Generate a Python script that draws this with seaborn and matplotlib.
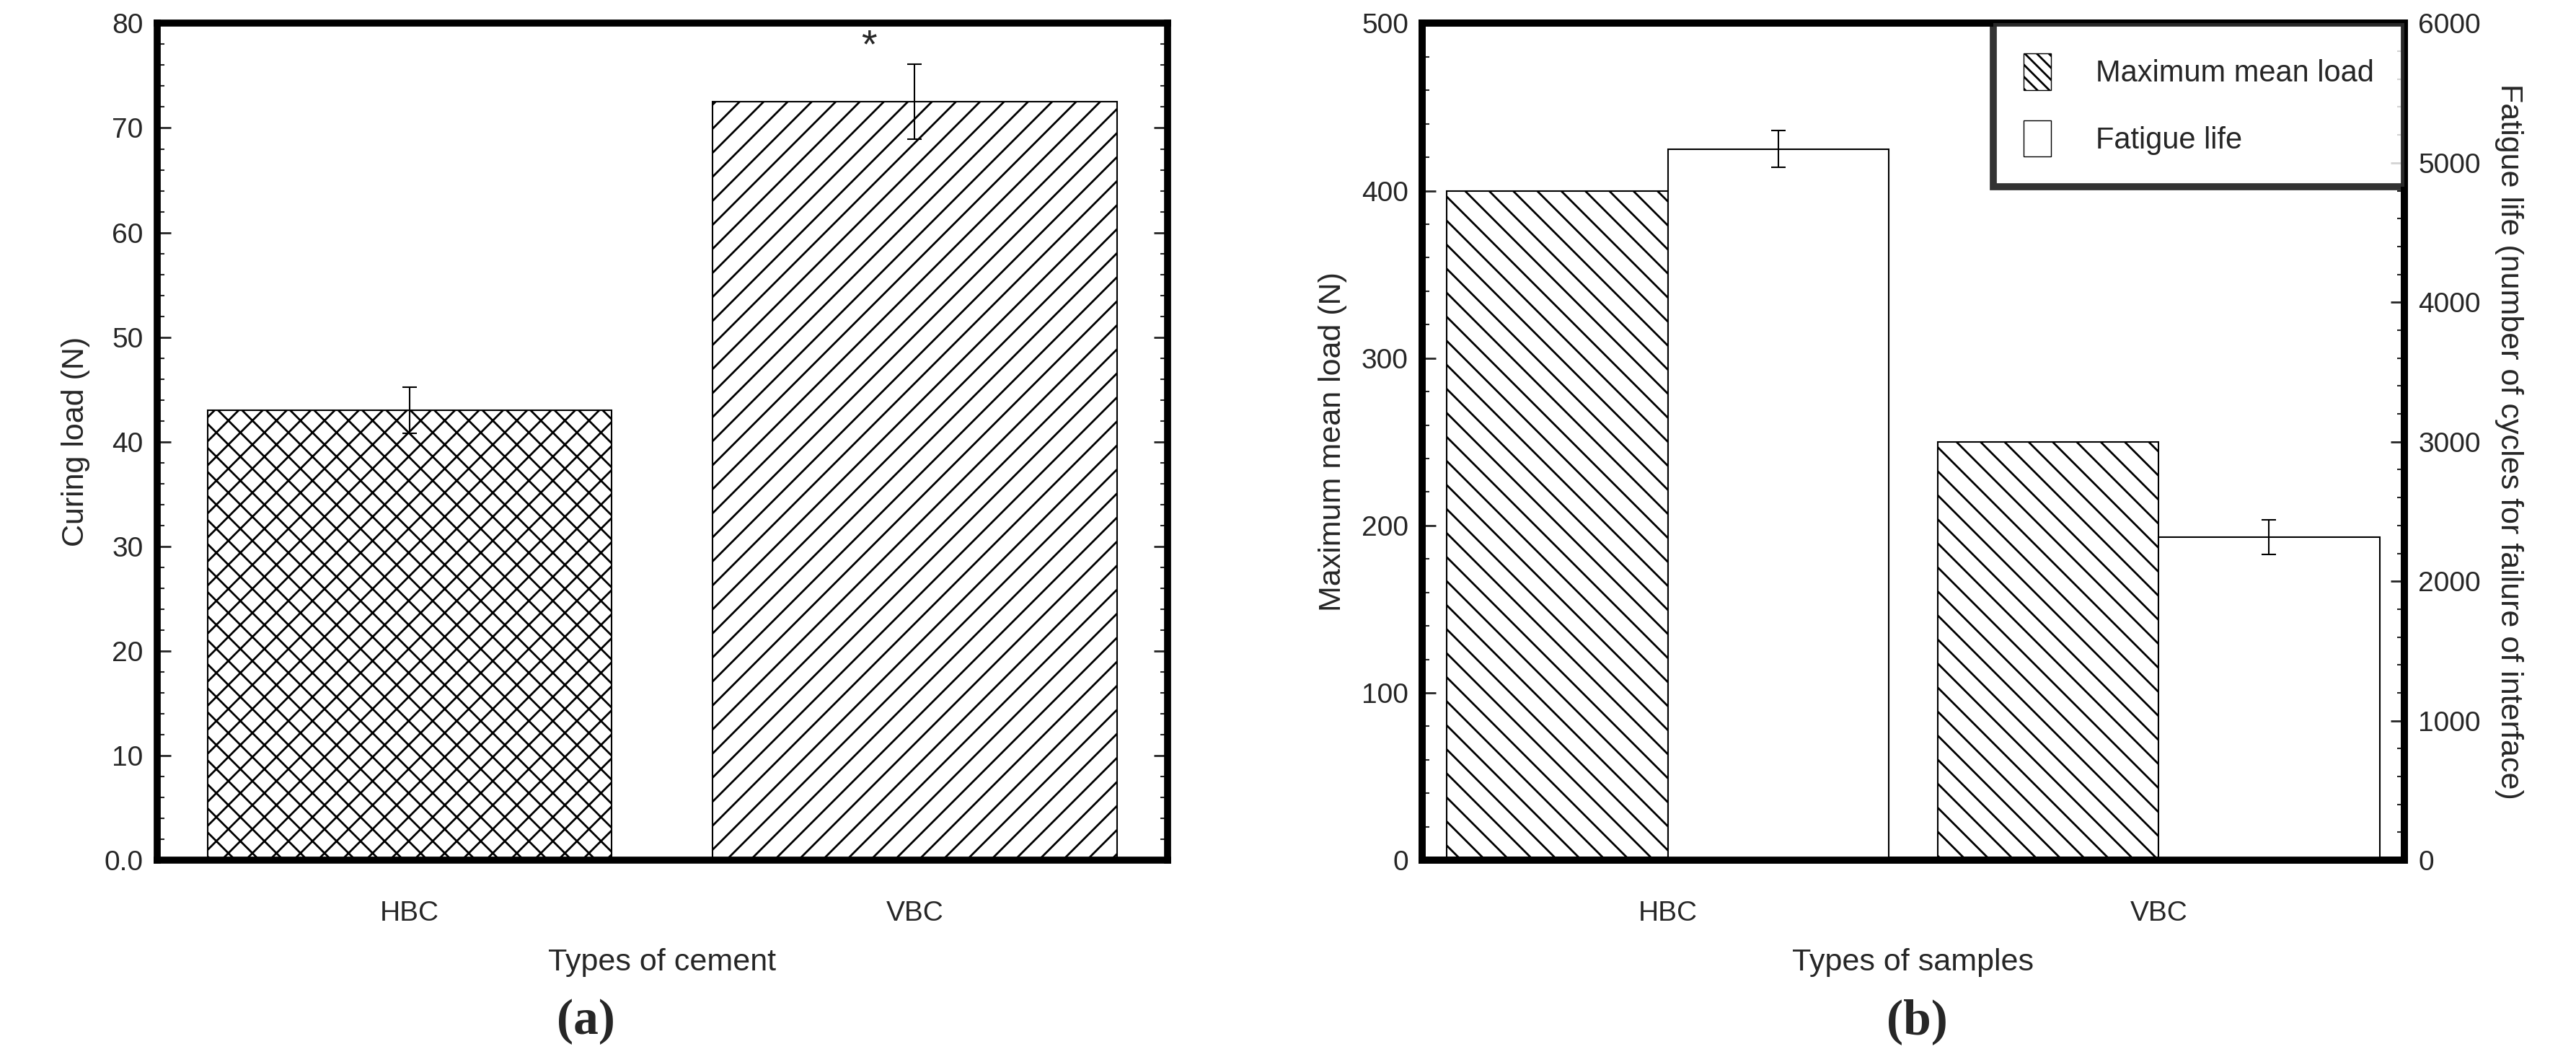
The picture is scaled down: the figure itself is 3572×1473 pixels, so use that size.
import numpy as np
import pandas as pd
import matplotlib
matplotlib.use("Agg")
import matplotlib.pyplot as plt
import seaborn as sns
from matplotlib.ticker import AutoMinorLocator
from matplotlib.patches import Patch

# ---- data ----
cements = ['HBC', 'VBC']
curing_load = [43.0, 72.5]
curing_err = [2.2, 3.6]

samples = ['HBC', 'VBC']
max_mean_load = [400, 250]
fatigue_life = [5100, 2316]
fatigue_err = [130, 125]

sns.set_style("white")
plt.rcParams['font.family'] = ['Liberation Sans', 'DejaVu Sans']
plt.rcParams['hatch.linewidth'] = 2.0

fig = plt.figure(figsize=(35.73, 14.73), dpi=100)
ax1 = fig.add_axes([0.061, 0.190, 0.392, 0.788])
ax2 = fig.add_axes([0.552, 0.190, 0.381, 0.788])

TICK = 28
LAB = 31
SPW = 7

def style(ax):
    for s in ax.spines.values():
        s.set_linewidth(SPW)
        s.set_color('black')
    ax.tick_params(direction='in', which='major', length=14, width=2, labelsize=TICK, pad=14)
    ax.tick_params(direction='in', which='minor', length=7, width=1.5)

# ---- (a) ----
df_a = pd.DataFrame({'cement': cements, 'load': curing_load})
sns.barplot(data=df_a, x='cement', y='load', ax=ax1, color='white',
            edgecolor='black', linewidth=1.5, width=0.8)
for p, h in zip(ax1.patches, ['x', '/']):
    p.set_hatch(h)
ax1.errorbar(range(len(cements)), curing_load, yerr=curing_err, fmt='none',
             ecolor='black', elinewidth=1.5, capsize=7, capthick=1.5)
ax1.text(1 - 0.09, curing_load[1] + curing_err[1] - 0.2, '*', fontsize=40,
         ha='center', va='bottom')
ax1.set_xlim(-0.5, 1.5)
ax1.set_ylim(0, 80)
ax1.set_yticks(np.arange(0, 81, 10))
ax1.set_yticklabels(['0.0'] + [str(v) for v in range(10, 81, 10)])
ax1.yaxis.set_minor_locator(AutoMinorLocator(5))
ax1.tick_params(axis='y', which='both', right=True, left=True)
ax1.set_xlabel('Types of cement', fontsize=LAB, labelpad=22)
ax1.set_ylabel('Curing load (N)', fontsize=LAB, labelpad=14)
style(ax1)
ax1.tick_params(axis='x', length=0, pad=40)

# ---- (b) ----
x = np.arange(len(samples))
bw = 0.45
ax2.bar(x - bw, max_mean_load, width=bw, align='edge', color='white',
        edgecolor='black', linewidth=1.5, hatch='\\')
ax2.set_ylim(0, 500)
ax2.set_yticks(np.arange(0, 501, 100))
ax2.yaxis.set_minor_locator(AutoMinorLocator(5))
ax2.set_xlim(-0.5, 1.5)
ax2.set_xticks(x)
ax2.set_xticklabels(samples)
ax2.set_xlabel('Types of samples', fontsize=LAB, labelpad=22)
ax2.set_ylabel('Maximum mean load (N)', fontsize=LAB, labelpad=14)
style(ax2)
ax2.tick_params(axis='x', length=0, pad=40)

ax3 = ax2.twinx()
ax3.bar(x, fatigue_life, width=bw, align='edge', color='white',
        edgecolor='black', linewidth=1.5)
ax3.errorbar(x + bw / 2, fatigue_life, yerr=fatigue_err, fmt='none',
             ecolor='black', elinewidth=1.5, capsize=7, capthick=1.5)
ax3.set_ylim(0, 6000)
ax3.set_yticks(np.arange(0, 6001, 1000))
ax3.yaxis.set_minor_locator(AutoMinorLocator(5))
ax3.set_ylabel('Fatigue life (number of cycles for failure of interface)',
               fontsize=LAB, rotation=270, va='bottom', labelpad=14)
style(ax3)

handles = [Patch(facecolor='white', edgecolor='black', hatch='\\\\', label='Maximum mean load'),
           Patch(facecolor='white', edgecolor='black', label='Fatigue life')]
leg = ax3.legend(handles=handles, loc='upper right', fontsize=30, frameon=True,
                 fancybox=False, borderaxespad=0, handlelength=0.9, handleheight=1.5,
                 handletextpad=1.5, borderpad=1.0, labelspacing=1.0)
leg.get_frame().set_linewidth(SPW)
leg.get_frame().set_edgecolor('black')

fig.text(0.2275, 0.038, '(a)', fontsize=50, fontweight='bold', family='Liberation Serif',
         ha='center', va='center')
fig.text(0.744, 0.038, '(b)', fontsize=50, fontweight='bold', family='Liberation Serif',
         ha='center', va='center')

fig.savefig('out.png', dpi=100)
